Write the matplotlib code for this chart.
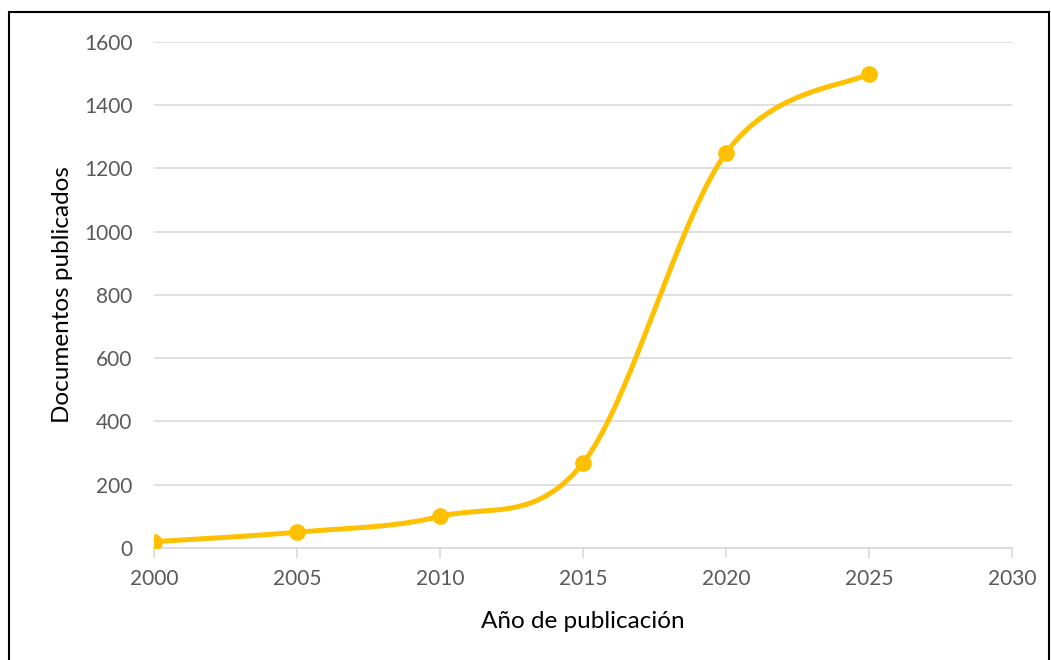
import matplotlib.pyplot as plt
from matplotlib.patches import Rectangle
import numpy as np

plt.rcParams['font.family'] = ['Lato', 'DejaVu Sans']

years = [2000, 2005, 2010, 2015, 2020, 2025]
docs = [20, 50, 100, 270, 1250, 1500]
xticks = [2000, 2005, 2010, 2015, 2020, 2025, 2030]
yticks = [0, 200, 400, 600, 800, 1000, 1200, 1400, 1600]


def smooth(x, y, n=40):
    # Excel-style smoothed line: Catmull-Rom as cubic bezier segments
    p = np.column_stack([x, y]).astype(float)
    p = np.vstack([p[0], p, p[-1]])
    out = []
    for i in range(1, len(p) - 2):
        p0, p3 = p[i], p[i + 1]
        c1 = p0 + (p[i + 1] - p[i - 1]) / 6
        c2 = p3 - (p[i + 2] - p[i]) / 6
        t = np.linspace(0, 1, n)[:, None]
        seg = (1-t)**3*p0 + 3*(1-t)**2*t*c1 + 3*(1-t)*t**2*c2 + t**3*p3
        out.append(seg)
    s = np.vstack(out)
    return s[:, 0], s[:, 1]


fig = plt.figure(figsize=(10.51, 6.6), dpi=100)
ax = fig.add_axes([0.147, 0.1697, 0.816, 0.7667])

fig.add_artist(Rectangle((9/1051, -0.01), 1040/1051, 1 - 12/660 + 0.01,
                         transform=fig.transFigure, fill=False,
                         edgecolor='black', linewidth=1.5))

sx, sy = smooth(years, docs)
ax.plot(sx, sy, color='#FFC000', lw=3.6, solid_capstyle='round', zorder=3)
ax.plot(years, docs, 'o', color='#FFC000', ms=11, zorder=4)

ax.set_xlim(2000, 2030)
ax.set_ylim(0, 1600)
ax.set_xticks(xticks)
ax.set_yticks(yticks)
ax.grid(axis='y', color='#D9D9D9', lw=1.2)
ax.set_axisbelow(True)
for s in ['top', 'right', 'left']:
    ax.spines[s].set_visible(False)
ax.spines['bottom'].set_color('#D9D9D9')
ax.spines['bottom'].set_linewidth(1.2)
ax.spines['bottom'].set_zorder(1)
ax.tick_params(axis='x', colors='#D9D9D9', length=7, width=1.2, labelcolor='#595959',
               labelsize=15, pad=8)
ax.tick_params(axis='y', length=0, labelcolor='#595959', labelsize=15, pad=16)

ax.set_xlabel('Año de publicación', fontsize=17.5, labelpad=16)
ax.set_ylabel('Documentos publicados', fontsize=17.5, labelpad=8)

fig.savefig('out.png', dpi=100)
